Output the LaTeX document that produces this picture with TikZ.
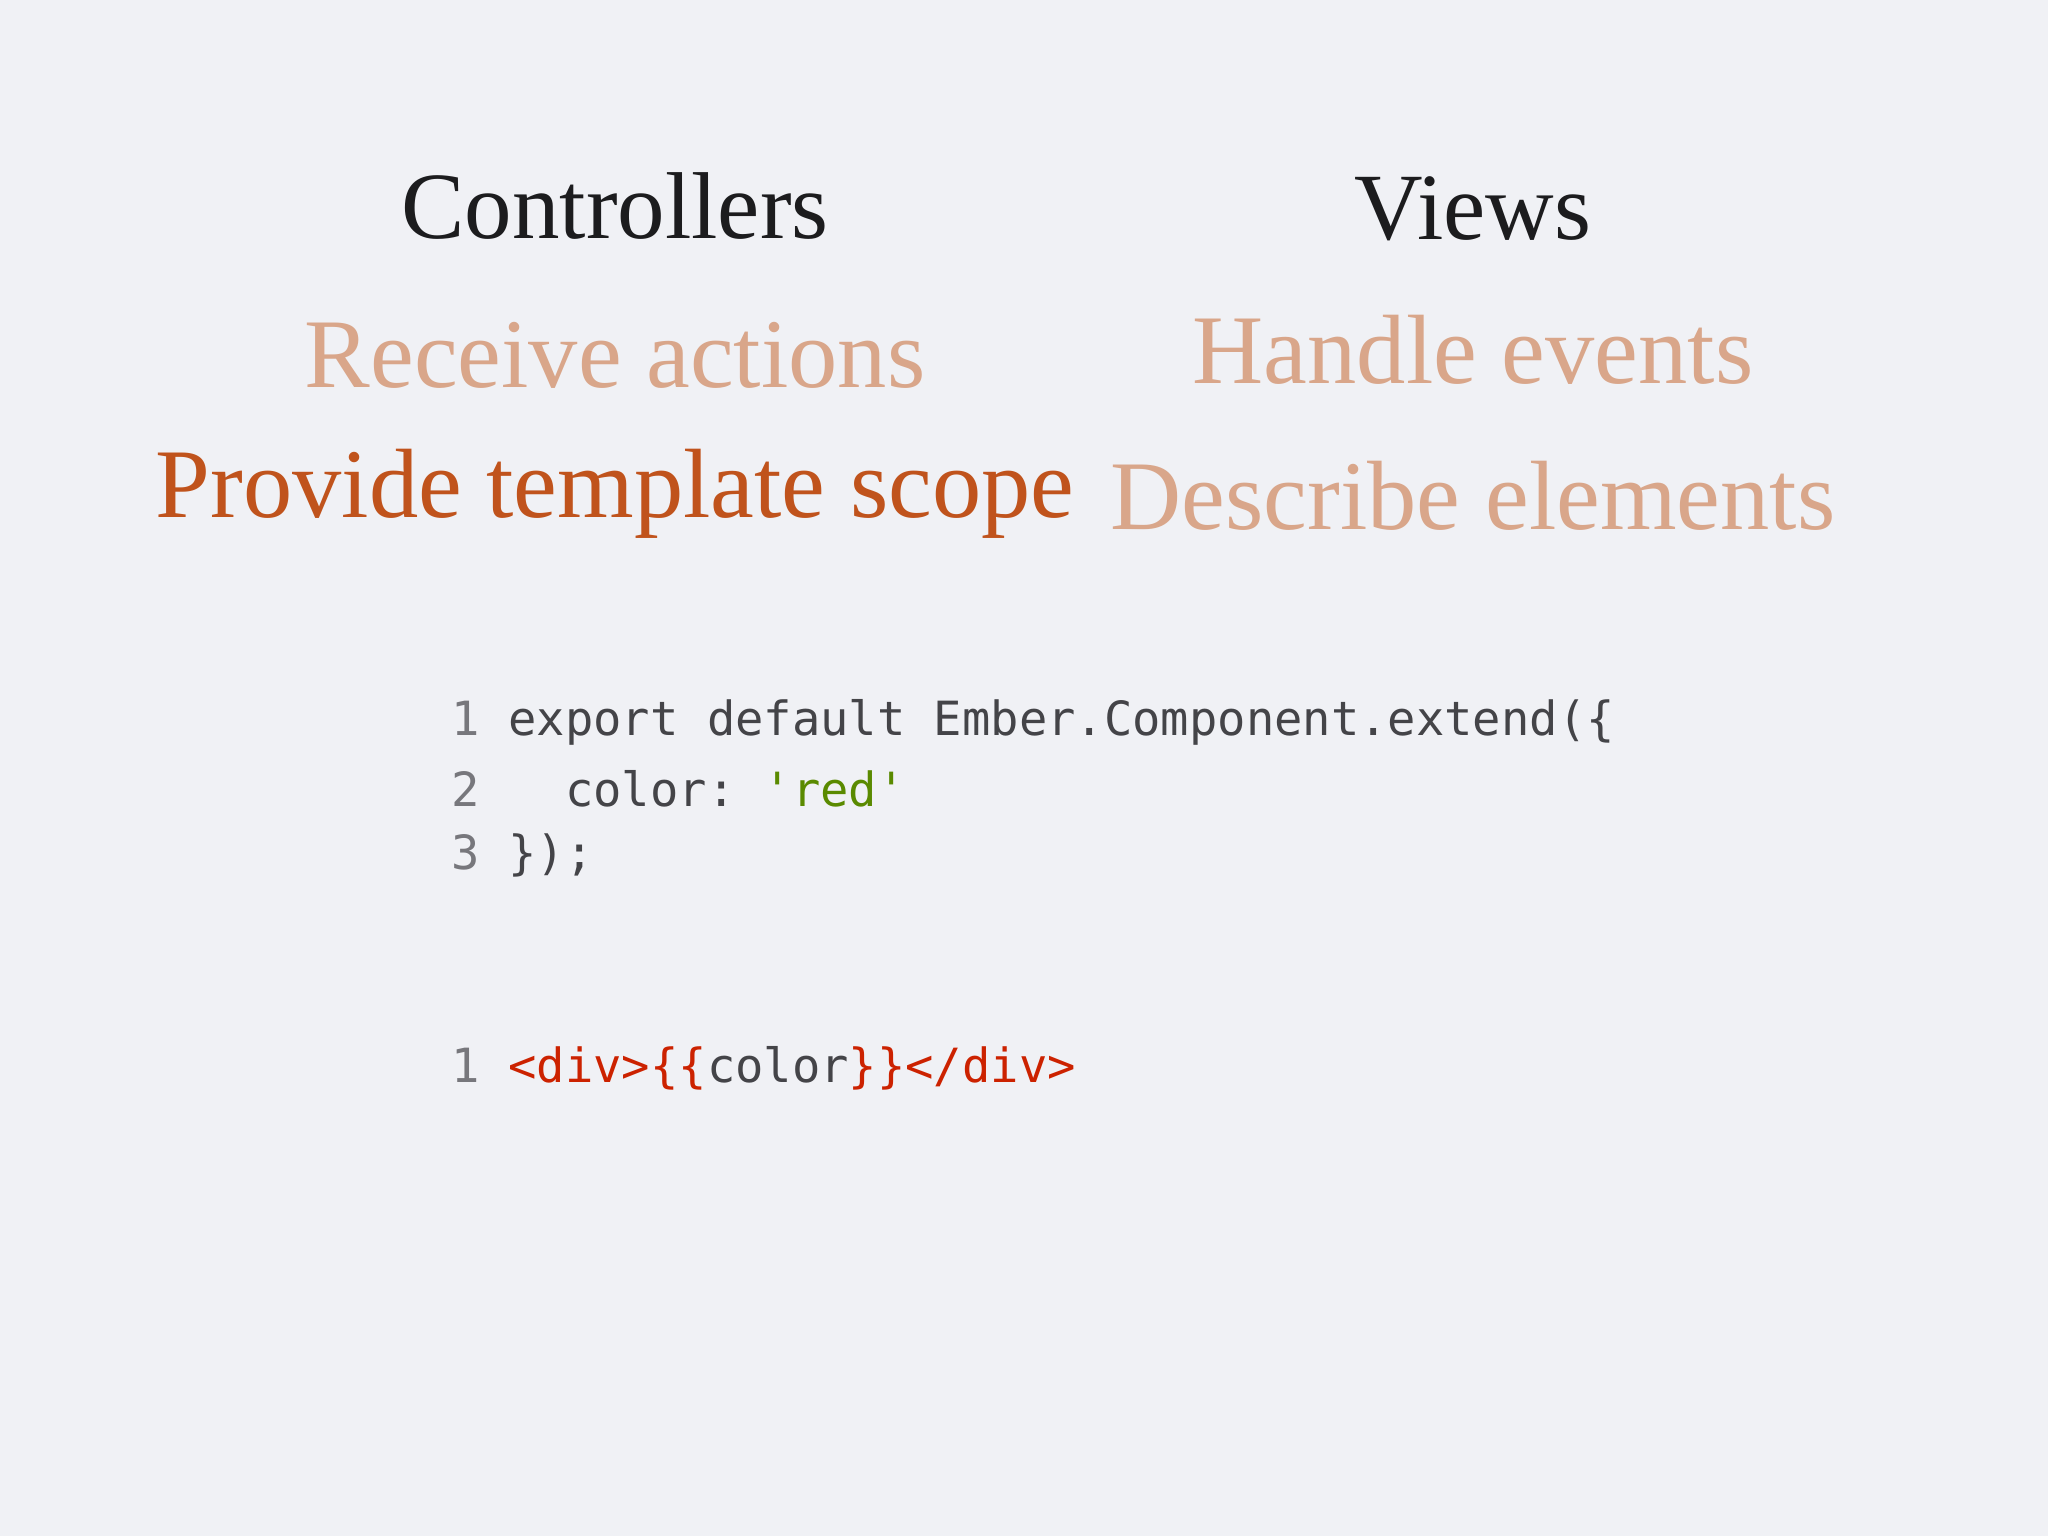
\documentclass[tikz,border=0pt]{standalone}
\usepackage{fontspec}
\setmainfont{Liberation Serif}
\setmonofont{DejaVu Sans Mono}
\definecolor{bg}{HTML}{F0F1F5}
\definecolor{ink}{HTML}{1C1C1E}
\definecolor{faded}{HTML}{D9A68A}
\definecolor{strong}{HTML}{C0531C}
\definecolor{code}{HTML}{444448}
\definecolor{lnum}{HTML}{77777C}
\definecolor{str}{HTML}{5A8A00}
\definecolor{tag}{HTML}{CC2200}
\tikzset{
 head/.style={font=\fontsize{27}{30}\selectfont, text=ink},
 item/.style={font=\fontsize{28}{32}\selectfont},
 codeln/.style={anchor=west, font=\ttfamily\fontsize{13.4}{16}\selectfont, text=code, inner sep=0pt}
}
\begin{document}
\begin{tikzpicture}[x=0.01cm,y=-0.01cm]
\fill[bg] (0,0) rectangle (2048,1536);
\node[head] (c) at (615,206) {Controllers};
\node[head] (v) at (1473,209) {Views};
\node[item,text=faded] (ra) at (615,355) {Receive actions};
\node[item,text=faded] (he) at (1473,350) {Handle events};
\node[item,text=strong] (pt) at (615,494) {Provide template scope};
\node[item,text=faded] (de) at (1473,496) {Describe elements};
\node[codeln] (l1) at (451,722) {\textcolor{lnum}{1} export default Ember.Component.extend(\{};
\node[codeln] (l2) at (451,789) {\textcolor{lnum}{2}\ \ \ color: \textcolor{str}{'red'}};
\node[codeln] (l3) at (451,855) {\textcolor{lnum}{3} \});};
\node[codeln] (l4) at (451,1068) {\textcolor{lnum}{1} \textcolor{tag}{<div>\{\{}color\textcolor{tag}{\}\}</div>}};
\end{tikzpicture}
\end{document}
